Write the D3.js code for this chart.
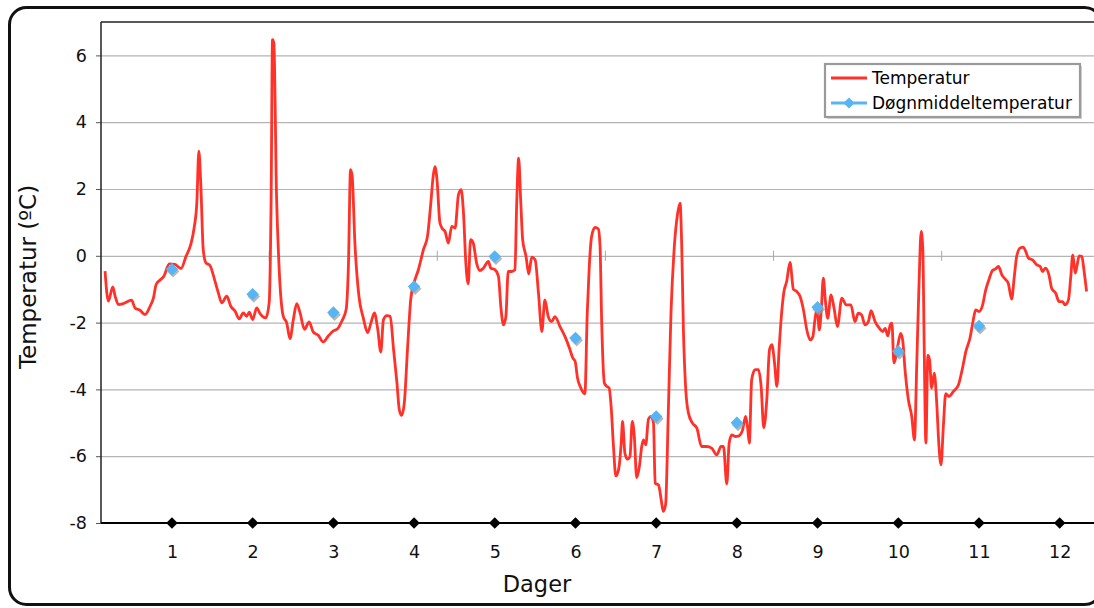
<!DOCTYPE html>
<html>
<head>
<meta charset="utf-8">
<script src="https://cdn.jsdelivr.net/npm/d3@7"></script>
<style>
  html, body { margin: 0; padding: 0; background: #fff; }
  svg { display: block; font-family: "DejaVu Sans", Verdana, sans-serif; }
</style>
</head>
<body>
<svg id="chart" width="1094" height="608"></svg>
<script>
// ---------- DATA ----------
const dayLabels = [1, 2, 3, 4, 5, 6, 7, 8, 9, 10, 11, 12];
const dailyMean = [-0.40, -1.15, -1.70, -0.92, -0.02, -2.46, -4.81, -5.00, -1.54, -2.86, -2.10];
const yTickValues = [-8, -6, -4, -2, 0, 2, 4, 6];
const hourTicks = [50, 100, 150, 200, 250];
const seriesNames = ["Temperatur", "Døgnmiddeltemperatur"];

const tempHours = [
  1.2, 2.2, 3.5, 4.2, 5.2, 6.6, 9.1, 10.1, 11.6, 13.1, 14.6, 15.6, 16.4, 17.5, 18.7, 20.3, 22.0, 23.8,
  25.3, 26.7, 27.7, 28.5, 29.1, 29.7, 30.4, 31.2, 32.4, 33.9, 34.9, 35.9, 37.4, 38.6, 39.9, 41.1, 42.3,
  43.3, 44.1, 45.1, 46.3, 47.3, 49.0, 50.0, 50.6, 51.0, 51.4, 52.2, 52.9, 54.2, 55.2, 56.2, 57.2, 58.2,
  59.2, 60.5, 61.9, 63.1, 64.6, 66.1, 67.6, 69.1, 70.4, 71.6, 72.9, 73.6, 74.2, 74.7, 75.5, 76.7, 78.0,
  79.3, 80.3, 81.3, 82.3, 83.2, 84.0, 85.0, 86.0, 87.0, 88.0, 88.7, 89.4, 90.2, 91.2, 92.1, 93.1, 94.4,
  95.9, 97.1, 98.1, 98.8, 99.3, 99.9, 100.8, 101.6, 102.3, 103.3, 104.3, 105.3, 106.3, 107.1, 107.8,
  108.5, 109.2, 109.9, 110.7, 111.7, 112.7, 113.7, 115.2, 115.9, 117.2, 118.2, 118.9, 119.7, 120.4,
  121.1, 122.1, 123.1, 123.6, 124.2, 124.8, 125.4, 126.4, 127.2, 128.1, 129.1, 130.1, 131.1, 132.0,
  133.0, 134.0, 135.0, 136.5, 138.0, 139.3, 140.3, 141.0, 141.7, 142.7, 143.9, 144.6, 145.2, 145.9,
  146.9, 147.9, 148.4, 148.9, 149.7, 150.4, 151.1, 151.7, 152.4, 153.1, 153.9, 154.7, 155.1, 155.8,
  156.6, 157.3, 158.0, 158.6, 159.3, 160.1, 160.8, 161.3, 162.0, 162.8, 163.6, 164.3, 164.8, 165.8,
  166.6, 167.2, 167.9, 168.7, 169.5, 170.5, 171.5, 172.2, 172.7, 173.2, 173.9, 174.7, 175.9, 177.2,
  178.6, 180.1, 181.6, 183.1, 184.4, 185.1, 186.1, 186.8, 187.6, 188.6, 189.7, 190.8, 191.7, 192.3,
  192.8, 193.5, 194.5, 195.5, 196.3, 197.1, 198.0, 198.8, 199.5, 200.3, 201.0, 201.7, 202.4, 203.1,
  203.9, 204.9, 205.9, 206.9, 207.9, 208.9, 209.9, 210.9, 211.7, 212.3, 213.0, 213.6, 214.2, 214.8,
  215.4, 216.1, 217.1, 218.0, 219.0, 220.3, 221.6, 223.0, 224.2, 225.2, 226.2, 227.2, 228.2, 229.0,
  230.2, 231.5, 232.5, 233.2, 234.0, 234.7, 235.2, 235.8, 236.4, 237.1, 237.8, 238.4, 239.1, 240.1,
  241.1, 241.9, 242.6, 243.3, 243.9, 244.4, 244.8, 245.3, 245.9, 246.4, 247.0, 247.8, 248.5, 249.2,
  249.8, 250.5, 251.2, 252.2, 253.5, 255.0, 256.2, 257.2, 258.4, 259.4, 260.1, 261.1, 262.1, 263.1,
  264.1, 265.1, 265.9, 266.9, 267.9, 268.9, 269.8, 270.8, 271.6, 272.3, 273.3, 274.3, 275.0, 275.8,
  277.0, 278.3, 279.3, 280.0, 280.9, 281.9, 282.7, 283.9, 284.9, 285.9, 286.7, 287.7, 288.4, 289.0,
  289.7, 290.2, 290.9, 291.7, 292.3, 293.1
];
const tempValues = [
  -0.46, -1.36, -0.93, -1.21, -1.46, -1.43, -1.33, -1.56, -1.63, -1.76, -1.51, -1.26, -0.86, -0.73, -0.61, -0.24, -0.26, -0.38,
  -0.01, 0.34, 0.84, 1.59, 3.13, 2.08, 0.19, -0.21, -0.29, -0.76, -1.11, -1.41, -1.21, -1.51, -1.66, -1.89, -1.71,
  -1.81, -1.69, -1.91, -1.56, -1.73, -1.86, -1.41, 1.79, 6.47, 6.37, 1.79, -0.21, -1.81, -2.00, -2.48, -1.91, -1.43,
  -1.71, -2.20, -1.98, -2.28, -2.38, -2.58, -2.40, -2.25, -2.18, -1.96, -1.61, -0.21, 2.58, 2.38, 0.39, -1.21, -1.86,
  -2.30, -2.00, -1.71, -2.20, -2.88, -1.91, -1.79, -1.81, -2.80, -3.80, -4.60, -4.78, -4.40, -2.70, -1.31, -0.81, -0.41,
  0.19, 0.59, 1.60, 2.40, 2.67, 2.30, 0.98, 0.80, 0.73, 0.38, 0.88, 0.83, 1.83, 1.98, 1.28,
  -0.22, -0.84, 0.48, 0.38, -0.22, -0.44, -0.37, -0.17, -0.37, -0.42, -0.62, -1.52, -2.07, -1.82,
  -0.47, -0.47, -0.42, 1.48, 2.92, 1.68, 0.48, -0.02, -0.54, -0.04, -0.12, -1.12, -2.27, -1.32,
  -1.82, -1.97, -1.82, -2.12, -2.42, -2.76, -3.06, -3.16, -3.66, -3.96, -4.13, -1.72, -0.32, 0.58,
  0.85, 0.80, 0.30, -2.00, -3.81, -3.91, -3.96, -4.51, -5.71, -6.59, -6.41, -5.61, -4.96, -5.91,
  -6.09, -6.01, -4.96, -5.41, -6.64, -6.31, -5.71, -5.51, -5.66, -4.89, -4.81, -5.01, -6.81, -6.86,
  -7.31, -7.65, -7.45, -4.71, -1.72, 0.28, 1.28, 1.58, 0.28, -2.22, -4.01, -4.71, -5.01, -5.16,
  -5.71, -5.71, -5.76, -5.96, -5.71, -5.71, -6.83, -5.61, -5.36, -5.41, -5.39, -5.21, -4.81, -5.16,
  -5.61, -3.71, -3.41, -3.41, -3.90, -5.15, -4.30, -2.81, -2.66, -3.21, -3.91, -2.71, -1.72, -1.07,
  -0.77, -0.20, -1.00, -1.07, -1.22, -1.62, -2.22, -2.52, -2.42, -1.92, -1.57, -2.22, -1.62, -0.67,
  -1.32, -1.87, -1.17, -1.57, -2.12, -1.27, -1.47, -1.47, -1.97, -1.72, -1.77, -2.07, -1.97, -1.64,
  -1.97, -2.17, -2.27, -2.17, -2.40, -2.07, -2.02, -3.21, -3.01, -2.61, -2.32, -2.52, -3.41, -4.31,
  -4.81, -5.51, -3.21, -0.72, 0.73, 0.18, -2.71, -5.61, -2.98, -3.11, -3.96, -3.51, -4.36, -5.71,
  -6.26, -5.11, -4.13, -4.21, -4.06, -3.86, -3.36, -2.86, -2.47, -1.92, -1.62, -1.67, -1.50, -1.02,
  -0.70, -0.44, -0.40, -0.32, -0.57, -0.70, -0.82, -1.30, -0.62, -0.02, 0.23, 0.26, 0.13, -0.07,
  -0.12, -0.27, -0.32, -0.47, -0.37, -0.57, -0.97, -1.12, -1.37, -1.37, -1.47, -1.32, -0.62, 0.03,
  -0.52, -0.32, 0.00, -0.02, -0.42, -1.07
];

// ---------- LAYOUT ----------
const plot = { left: 101, top: 22, right: 1094, bottom: 523 };
const hourMax = 295.3;
const dayOffsetHours = 2.9; // day k marker sits at hour 24*k - offset

const svg = d3.select("#chart");
const x = d3.scaleLinear().domain([0, hourMax]).range([plot.left, plot.right]);
const xDay = d3.scaleLinear()
  .domain([(0 + dayOffsetHours) / 24, (hourMax + dayOffsetHours) / 24])
  .range([plot.left, plot.right]);
const y = d3.scaleLinear().domain([-8, 7]).range([plot.bottom, plot.top]);

const red = "#ff3128";
const blue = "#58b5f4";
const font = '"DejaVu Sans", Verdana, sans-serif';

// outer rounded frame
svg.append("rect")
  .attr("x", 9.5).attr("y", 7.5)
  .attr("width", 1092).attr("height", 597)
  .attr("rx", 17).attr("ry", 17)
  .attr("fill", "#fff").attr("stroke", "#111").attr("stroke-width", 3);

// gridlines
svg.append("g")
  .attr("transform", `translate(${plot.left},0)`)
  .call(d3.axisLeft(y).tickValues(yTickValues.filter(v => v > -8))
    .tickSize(-(plot.right - plot.left)).tickFormat(""))
  .call(g => g.select(".domain").remove())
  .call(g => g.selectAll("line").attr("stroke", "#b4b4b4").attr("stroke-width", 1.2));

// small ticks on the zero line
svg.append("g").selectAll("line").data(hourTicks).join("line")
  .attr("x1", d => x(d)).attr("x2", d => x(d))
  .attr("y1", y(0) - 5).attr("y2", y(0) + 5)
  .attr("stroke", "#a8a8a8").attr("stroke-width", 1);

// y axis
svg.append("g")
  .attr("transform", `translate(${plot.left},0)`)
  .call(d3.axisLeft(y).tickValues(yTickValues).tickSize(5).tickPadding(9)
    .tickFormat(d => String(d)))
  .call(g => g.select(".domain").remove())
  .call(g => g.selectAll("line").attr("stroke", "#555"))
  .call(g => g.selectAll("text").attr("font-size", 17.5).attr("font-family", font).attr("fill", "#111"));

// x axis labels
svg.append("g")
  .attr("transform", `translate(0,${plot.bottom})`)
  .call(d3.axisBottom(xDay).tickValues(dayLabels).tickSize(0).tickPadding(23)
    .tickFormat(d => String(d)))
  .call(g => g.select(".domain").remove())
  .call(g => g.selectAll("text").attr("font-size", 17.5).attr("font-family", font).attr("fill", "#111"));

// plot borders
svg.append("line").attr("x1", plot.left).attr("x2", plot.right)
  .attr("y1", plot.top).attr("y2", plot.top).attr("stroke", "#222").attr("stroke-width", 1.5);
svg.append("line").attr("x1", plot.left).attr("x2", plot.left)
  .attr("y1", plot.top).attr("y2", plot.bottom).attr("stroke", "#222").attr("stroke-width", 1.5);
svg.append("line").attr("x1", plot.left).attr("x2", plot.right)
  .attr("y1", plot.bottom).attr("y2", plot.bottom).attr("stroke", "#000").attr("stroke-width", 2);

// black day markers on the axis
const diamond = d3.symbol().type(d3.symbolDiamond2);
svg.append("g").selectAll("path").data(dayLabels).join("path")
  .attr("d", diamond.size(85)())
  .attr("transform", d => `translate(${xDay(d)},${y(-8)})`)
  .attr("fill", "#000");

// temperature line
const tempData = tempHours.map((h, i) => [h, tempValues[i]]);
svg.append("path")
  .datum(tempData)
  .attr("fill", "none")
  .attr("stroke", red)
  .attr("stroke-width", 2.8)
  .attr("stroke-linejoin", "round")
  .attr("d", d3.line().x(d => x(d[0])).y(d => y(d[1])).curve(d3.curveMonotoneX));

// daily mean diamonds (with soft shadow)
const meanData = dailyMean.map((v, i) => [dayLabels[i], v]);
svg.append("g").selectAll("path").data(meanData).join("path")
  .attr("d", diamond.size(100)())
  .attr("transform", d => `translate(${xDay(d[0]) + 1.2},${y(d[1]) + 2.2})`)
  .attr("fill", "#9a9a9a").attr("opacity", 0.7);
svg.append("g").selectAll("path").data(meanData).join("path")
  .attr("d", diamond.size(100)())
  .attr("transform", d => `translate(${xDay(d[0])},${y(d[1])})`)
  .attr("fill", blue);

// legend
const lg = svg.append("g").attr("transform", "translate(825,64)");
lg.append("rect").attr("x", 2).attr("y", 2).attr("width", 255).attr("height", 53)
  .attr("fill", "#d4d4d4");
lg.append("rect").attr("width", 255).attr("height", 53)
  .attr("fill", "#fff").attr("stroke", "#9a9a9a").attr("stroke-width", 2.2);
lg.append("line").attr("x1", 6).attr("x2", 42).attr("y1", 14).attr("y2", 14)
  .attr("stroke", red).attr("stroke-width", 2.8);
lg.append("line").attr("x1", 6).attr("x2", 42).attr("y1", 39).attr("y2", 39)
  .attr("stroke", blue).attr("stroke-width", 2.8);
lg.append("path").attr("d", diamond.size(80)()).attr("transform", "translate(24,39)").attr("fill", blue);
lg.selectAll("text.lt").data(seriesNames).join("text")
  .attr("class", "lt")
  .attr("x", 47).attr("y", (d, i) => 20 + i * 25)
  .attr("font-size", 17).attr("font-family", font).attr("fill", "#000")
  .text(d => d);

// axis titles
svg.append("text")
  .attr("x", 537).attr("y", 592)
  .attr("text-anchor", "middle")
  .attr("font-size", 22.5).attr("font-family", font).attr("fill", "#111")
  .text("Dager");
svg.append("text")
  .attr("transform", "translate(36,277) rotate(-90)")
  .attr("text-anchor", "middle")
  .attr("font-size", 23).attr("font-family", font).attr("fill", "#111")
  .text("Temperatur (ºC)");
</script>
</body>
</html>
